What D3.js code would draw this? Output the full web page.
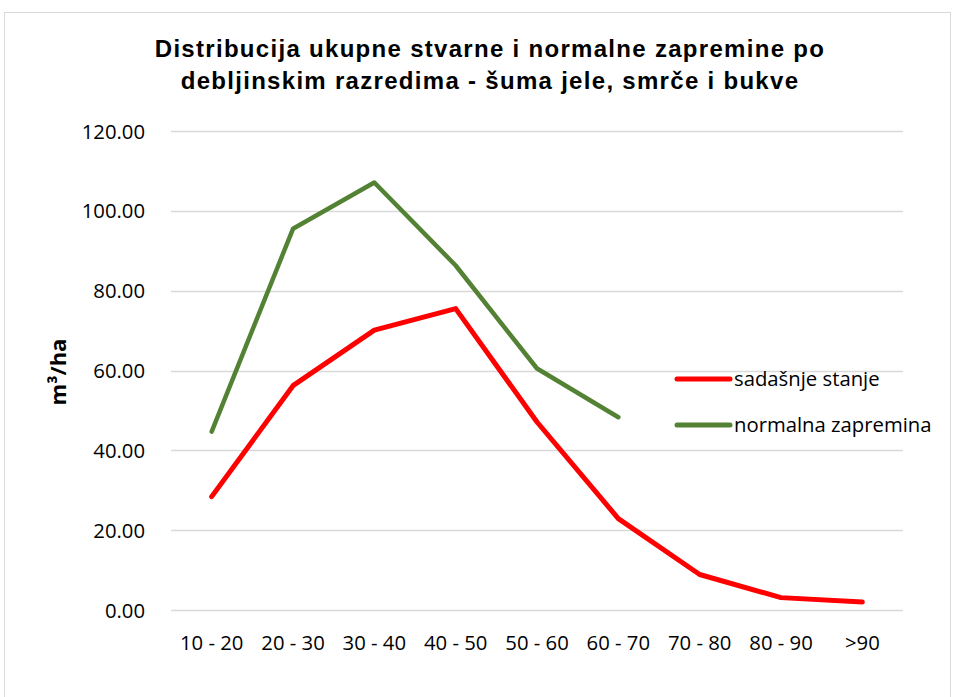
<!DOCTYPE html>
<html>
<head>
<meta charset="utf-8">
<script src="https://cdn.jsdelivr.net/npm/d3@7"></script>
<style>
  html, body { margin: 0; padding: 0; background: #fff; }
  svg { display: block; }
</style>
</head>
<body>
<div id="chart"></div>
<script>
// Diameter classes (cm)
const categories = ["10 - 20", "20 - 30", "30 - 40", "40 - 50", "50 - 60", "60 - 70", "70 - 80", "80 - 90", ">90"];
// Current state volume, m3/ha
const sadasnjeStanje = [28.4, 56.2, 70.1, 75.5, 47.1, 22.9, 8.9, 3.1, 2.0];
// Normal volume, m3/ha (defined up to 60-70)
const normalnaZapremina = [44.7, 95.5, 107.1, 86.3, 60.5, 48.3];
const yTicks = [0, 20, 40, 60, 80, 100, 120];

const seriesList = [
  { name: "sadašnje stanje", values: sadasnjeStanje, color: "#ff0000", width: 5 },
  { name: "normalna zapremina", values: normalnaZapremina, color: "#548235", width: 4.5 }
];

const W = 956, H = 697;
const plot = { left: 171, right: 903, top: 131, bottom: 610 };

const svg = d3.select("#chart").append("svg")
  .attr("width", W).attr("height", H);

svg.append("rect")
  .attr("x", 4.5).attr("y", 12.5).attr("width", 946).attr("height", 700)
  .attr("fill", "#fff").attr("stroke", "#d9d9d9").attr("stroke-width", 1);

const x = d3.scaleBand().domain(categories).range([plot.left, plot.right]);
const y = d3.scaleLinear().domain([0, 120]).range([plot.bottom, plot.top]);

// Gridlines
svg.append("g")
  .selectAll("line").data(yTicks).join("line")
  .attr("x1", plot.left).attr("x2", plot.right)
  .attr("y1", d => Math.round(y(d)) + 0.5).attr("y2", d => Math.round(y(d)) + 0.5)
  .attr("stroke", "#d9d9d9").attr("stroke-width", 1.3);

const labelFont = "'Open Sans', Lato, sans-serif";
const labelSize = 20.3;

// Y axis
const yAxis = svg.append("g")
  .attr("transform", `translate(${plot.left - 23},0)`)
  .call(d3.axisLeft(y).tickValues(yTicks).tickFormat(d3.format(".2f")).tickSize(0));
yAxis.select(".domain").remove();
yAxis.selectAll("text")
  .attr("font-family", labelFont).attr("font-size", labelSize).attr("fill", "#000")
  .attr("dy", "0.35em");

// X axis
const xAxis = svg.append("g")
  .attr("transform", `translate(0,${plot.bottom + 19})`)
  .call(d3.axisBottom(x).tickSize(0));
xAxis.select(".domain").remove();
xAxis.selectAll("text")
  .attr("font-family", labelFont).attr("font-size", labelSize).attr("fill", "#000")
  .attr("dy", "0.9em");

// Y axis title
svg.append("text")
  .attr("transform", `translate(66,372) rotate(-90)`)
  .attr("text-anchor", "middle")
  .attr("font-family", labelFont).attr("font-weight", "bold").attr("font-size", 22)
  .text("m³/ha");

// Title
const title = svg.append("text")
  .attr("text-anchor", "middle")
  .attr("font-family", "'Liberation Sans', Arial, sans-serif")
  .attr("font-weight", "bold").attr("font-size", 24)
  .attr("letter-spacing", 1.3);
title.append("tspan").attr("x", 490).attr("y", 57)
  .text("Distribucija ukupne stvarne i normalne zapremine po");
title.append("tspan").attr("x", 490).attr("y", 89)
  .text("debljinskim razredima - šuma jele, smrče i bukve");

// Lines
const line = d3.line()
  .x((d, i) => x(categories[i]) + x.bandwidth() / 2)
  .y(d => y(d));

svg.append("g").selectAll("path").data(seriesList).join("path")
  .attr("d", s => line(s.values))
  .attr("fill", "none")
  .attr("stroke", s => s.color)
  .attr("stroke-width", s => s.width)
  .attr("stroke-linejoin", "round")
  .attr("stroke-linecap", "round");

// Legend
const legend = svg.append("g").selectAll("g").data(seriesList).join("g")
  .attr("transform", (d, i) => `translate(677,${379 + i * 46})`);
legend.append("line")
  .attr("x1", 0).attr("x2", 53).attr("y1", 0).attr("y2", 0)
  .attr("stroke", d => d.color).attr("stroke-width", 5).attr("stroke-linecap", "round");
legend.append("text")
  .attr("x", 57).attr("y", 0).attr("dy", "0.35em")
  .attr("font-family", labelFont).attr("font-size", labelSize)
  .text(d => d.name);
</script>
</body>
</html>
